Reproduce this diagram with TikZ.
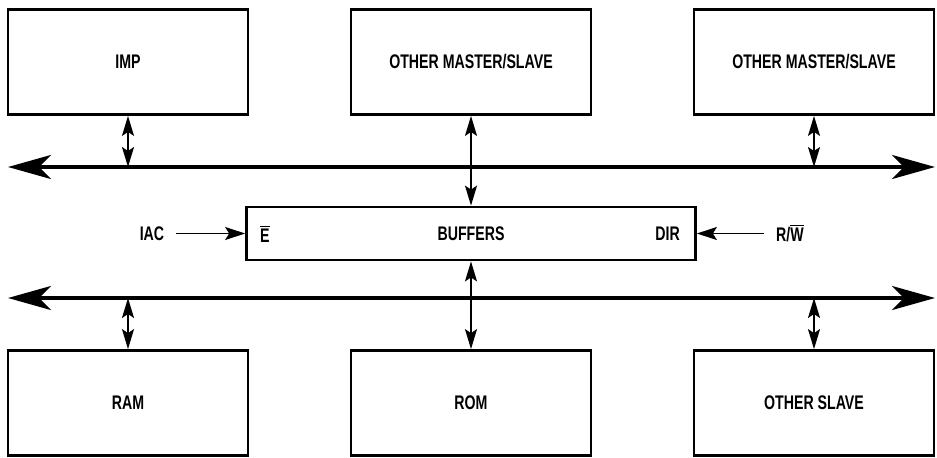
\documentclass[tikz,border=0pt]{standalone}
\usepackage{fontspec}
\newfontfamily\lblfont{Liberation Sans}[FakeStretch=0.72]
\usetikzlibrary{arrows.meta}
\tikzset{
  unit/.style={draw, line width=1.6pt, minimum width=4.8cm, minimum height=2.1cm, inner sep=0pt},
  bus/.style={line width=2.4pt, {Stealth[length=0.86cm, width=0.48cm, inset=0.24cm]}-{Stealth[length=0.86cm, width=0.48cm, inset=0.24cm]}},
  link/.style={line width=1pt, {Stealth[length=0.4cm, width=0.24cm, inset=0.08cm]}-{Stealth[length=0.4cm, width=0.24cm, inset=0.08cm]}},
  feed/.style={line width=1pt, -{Stealth[length=0.4cm, width=0.26cm, inset=0.08cm]}}
}
\begin{document}
\begin{tikzpicture}[x=0.02cm, y=-0.02cm, every node/.style={font=\lblfont\bfseries\fontsize{11.2}{13}\selectfont}]
\useasboundingbox (0,0) rectangle (937,457);
% masters on top, slaves at the bottom
\node[unit] (imp) at (128,62) {IMP};
\node[unit] (oms1) at (471,62) {OTHER MASTER/SLAVE};
\node[unit] (oms2) at (814,62) {OTHER MASTER/SLAVE};
\node[unit] (ram) at (128,403) {RAM};
\node[unit] (rom) at (471,403) {ROM};
\node[unit] (oslave) at (814,403) {OTHER SLAVE};
% buffers between the two buses
\node[draw, line width=1.6pt, minimum width=8.98cm, minimum height=1.06cm, inner sep=0pt] (buf) at (471,233.5) {BUFFERS};
\node[anchor=west] (en) at (254,233.5) {$\overline{\hbox{E}}$};
\node[anchor=east] (dir) at (686,233.5) {DIR};
\node (iac) at (152,233.5) {IAC};
\node (rw) at (790,233.5) {R/$\overline{\hbox{W}}$};
% bus lines
\coordinate (upl) at (8,167);
\coordinate (upr) at (935,167);
\coordinate (lol) at (8,298);
\coordinate (lor) at (935,298);
\draw[bus] (upl) -- (upr);
\draw[bus] (lol) -- (lor);
% connections
\draw[link] (imp.south) -- (imp.south |- upl);
\draw[link] (oms2.south) -- (oms2.south |- upl);
\draw[link] (oms1.south) -- (buf.north);
\draw[link] (buf.south) -- (rom.north);
\draw[link] (ram.north |- lol) -- (ram.north);
\draw[link] (oslave.north |- lol) -- (oslave.north);
\draw[feed] (iac.east) ++(6,0) coordinate (iacx) (iacx) -- (buf.west);
\draw[feed] (rw.west) ++(-6,0) coordinate (rwx) (rwx) -- (buf.east);
\end{tikzpicture}
\end{document}
